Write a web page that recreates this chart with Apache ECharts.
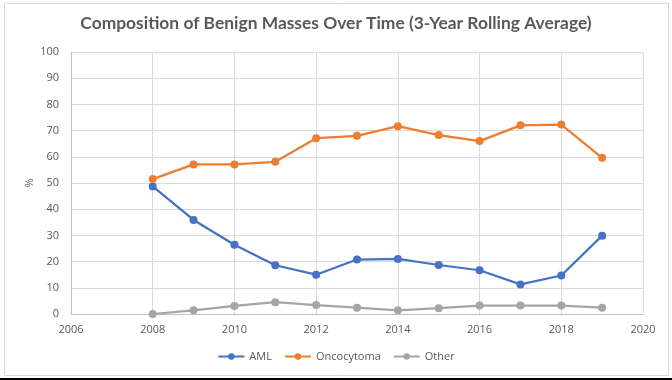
<!DOCTYPE html>
<html><head><meta charset="utf-8">
<script src="https://cdn.jsdelivr.net/npm/echarts@6/dist/echarts.min.js"></script>
<style>html,body{margin:0;padding:0;background:#fff}#c{width:672px;height:380px}</style>
</head><body><div id="c"></div>
<script>
const years = [2008,2009,2010,2011,2012,2013,2014,2015,2016,2017,2018,2019];
const aml = [48.7,35.9,26.4,18.6,15.0,20.8,21.0,18.7,16.7,11.3,14.7,29.9];
const oncocytoma = [51.5,57.1,57.1,58.1,67.1,68.0,71.7,68.3,66.0,72.0,72.3,59.6];
const other = [0,1.4,3.1,4.5,3.4,2.4,1.4,2.2,3.2,3.2,3.2,2.4];
const seriesNames = ['AML','Oncocytoma','Other'];
const yAxisTitle = '%';
const colors = ['#4472C4','#ED7D31','#A5A5A5'];
const FONT = '"Open Sans", "Liberation Sans", sans-serif';
const chart = echarts.init(document.getElementById('c'));
function mk(name, vals, color){
  return {name, type:'line', data: years.map((y,i)=>[y, vals[i]]),
    symbol:'circle', symbolSize:8, itemStyle:{color}, lineStyle:{color, width:2.25}, emphasis:{disabled:true}};
}
chart.setOption({
  animation:false,
  title:{text:'Composition of Benign Masses Over Time (3-Year Rolling Average)', left:'center', top:10,
    textStyle:{fontFamily:'Lato, "Open Sans", sans-serif', fontSize:17.4, fontWeight:'bold', color:'#595959'}},
  grid:{left:71, right:29, top:52, bottom:66},
  xAxis:{type:'value', min:2006, max:2020, interval:2,
    axisLine:{show:true, lineStyle:{color:'#BFBFBF', width:1}}, axisTick:{show:false},
    axisLabel:{color:'#595959', fontFamily:FONT, fontSize:11, margin:10, formatter:v=>String(v)},
    splitLine:{show:true, lineStyle:{color:'#D9D9D9', width:1}}},
  yAxis:{type:'value', min:0, max:100, interval:10,
    axisLine:{show:true, lineStyle:{color:'#BFBFBF', width:1}}, axisTick:{show:false},
    axisLabel:{color:'#595959', fontFamily:FONT, fontSize:11, margin:12},
    splitLine:{show:true, lineStyle:{color:'#D9D9D9', width:1}}},
  legend:{bottom:13, left:'center', itemWidth:26, itemHeight:8, itemGap:12, data:seriesNames,
    textStyle:{color:'#595959', fontFamily:FONT, fontSize:11}},
  graphic:[
    {type:'rect', shape:{x:4.5, y:3.5, width:664, height:372}, style:{fill:null, stroke:'#D9D9D9', lineWidth:1}, silent:true},
    {type:'rect', shape:{x:0, y:378, width:672, height:2}, style:{fill:'#000'}, silent:true},
    {type:'text', x:30, y:183, rotation:Math.PI/2, silent:true,
      style:{text:yAxisTitle, fill:'#595959', font:'11px "Open Sans", sans-serif', align:'center', verticalAlign:'middle'}}
  ],
  series:[mk(seriesNames[0], aml, colors[0]), mk(seriesNames[1], oncocytoma, colors[1]), mk(seriesNames[2], other, colors[2])]
});
</script></body></html>
